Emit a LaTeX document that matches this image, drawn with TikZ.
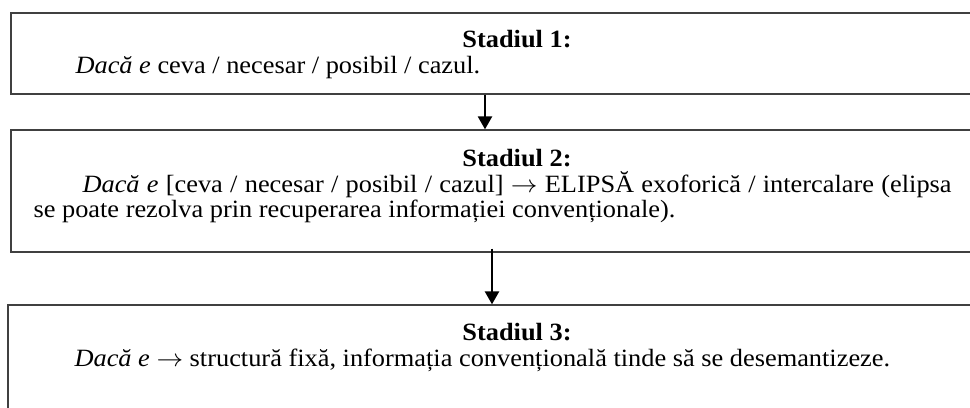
\documentclass[tikz,border=0pt]{standalone}
\usepackage{fontspec}
\setmainfont{Liberation Serif}[FakeStretch=1.06]
\usetikzlibrary{arrows.meta,fit}

\tikzset{
  stadiubox/.style={draw=black!75, line width=0.5pt, inner sep=0pt},
  titlu/.style={font=\fontsize{9.15}{11}\selectfont\bfseries, anchor=base, inner sep=0pt},
  rand/.style={font=\fontsize{9.15}{11}\selectfont, anchor=base west, inner sep=0pt},
  sageata/.style={line width=0.85pt, -{Triangle[width=5.2pt,length=4.8pt]}}
}
\newcommand{\sag}{\scalebox{1.06}[1]{$\rightarrow$}}

\begin{document}
\begin{tikzpicture}[x=0.368pt, y=-0.368pt]
            \useasboundingbox (0,0) rectangle (970,408);
            % casetele
            \node [stadiubox, fit={(11,13) (990,94)}] (stadiu1) {};
            \node [stadiubox, fit={(11,130) (990,252)}] (stadiu2) {};
            \node [stadiubox, fit={(8,305) (990,420)}] (stadiu3) {};

            \node [titlu] (titlu1) at (517,48) {Stadiul 1:};
            \node [rand] (text1) at (75,74) {\textit{Dacă e} ceva / necesar / posibil / cazul.};

            \node [titlu] (titlu2) at (517,167) {Stadiul 2:};
            \node [rand] (text2a) at (82,193) {\makebox[319.8pt][s]{\textit{Dacă e} [ceva / necesar / posibil / cazul] \sag{} ELIPSĂ exoforică / intercalare (elipsa}};
            \node [rand] (text2b) at (33,218) {se poate rezolva prin recuperarea informației convenționale).};

            \node [titlu] (titlu3) at (517,340) {Stadiul 3:};
            \node [rand] (text3) at (74,366) {\textit{Dacă e} \sag{} structură fixă, informația convențională tinde să se desemantizeze.};

            % sagetile
            \draw [sageata] (485,0 |- stadiu1.south) -- (485,0 |- stadiu2.north);
            \draw [sageata] ([yshift=1.5pt]492,0 |- stadiu2.south) -- (492,0 |- stadiu3.north);
\end{tikzpicture}
\end{document}
